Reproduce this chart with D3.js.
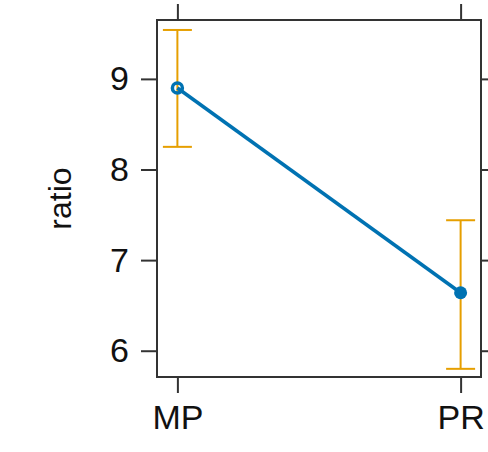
<!DOCTYPE html>
<html>
<head>
<meta charset="utf-8">
<script src="https://cdn.jsdelivr.net/npm/d3@7"></script>
<style>
  html, body { margin: 0; padding: 0; background: #fff; }
  svg { display: block; font-family: "Liberation Sans", Arial, sans-serif; }
</style>
</head>
<body>
<div id="chart"></div>
<script>
const categories = ["MP", "PR"];
const ratio = [8.90, 6.64];
const lower = [8.25, 5.80];
const upper = [9.54, 7.44];
const yTicks = [6, 7, 8, 9];

const width = 488, height = 452;
const margin = { top: 20, right: 7, bottom: 75, left: 157 };
const innerW = width - margin.left - margin.right;
const innerH = height - margin.top - margin.bottom;

const svg = d3.select("#chart").append("svg")
  .attr("width", width)
  .attr("height", height);

const g = svg.append("g").attr("transform", `translate(${margin.left},${margin.top})`);

const x = d3.scalePoint().domain(categories).range([0, innerW]).padding(0.072);
const y = d3.scaleLinear().domain([5.71, 9.65]).range([innerH, 0]);

const axisColor = "#333";

// axes (ticks outward on all four sides)
const axes = [
  { axis: d3.axisLeft(y).tickValues(yTicks).tickFormat(d3.format("d")), tr: "translate(0,0)" },
  { axis: d3.axisRight(y).tickValues(yTicks).tickFormat(""), tr: `translate(${innerW},0)` },
  { axis: d3.axisBottom(x), tr: `translate(0,${innerH})` },
  { axis: d3.axisTop(x).tickFormat(""), tr: "translate(0,0)" }
];
axes.forEach(a => {
  const ag = g.append("g").attr("transform", a.tr)
    .call(a.axis.tickSize(16).tickSizeOuter(0).tickPadding(12));
  ag.select(".domain").remove();
  ag.selectAll(".tick line").attr("stroke", axisColor).attr("stroke-width", 2);
  ag.selectAll(".tick text")
    .attr("fill", "#111")
    .style("font-size", "34px")
    .style("font-family", "'Liberation Sans', Arial, sans-serif");
});

// frame
g.append("rect")
  .attr("x", 0).attr("y", 0)
  .attr("width", innerW).attr("height", innerH)
  .attr("fill", "none")
  .attr("stroke", axisColor)
  .attr("stroke-width", 2);

// y label
svg.append("text")
  .attr("transform", `translate(71,${margin.top + innerH / 2}) rotate(-90)`)
  .attr("text-anchor", "middle")
  .attr("fill", "#111")
  .style("font-size", "32px")
  .text("ratio");

const data = categories.map((c, i) => ({ c, v: ratio[i], lo: lower[i], hi: upper[i] }));

// error bars
const orange = "#E69F00";
const cap = 14.5;
const eb = g.append("g").attr("stroke", orange).attr("stroke-width", 2);
data.forEach(d => {
  eb.append("line").attr("x1", x(d.c)).attr("x2", x(d.c)).attr("y1", y(d.lo)).attr("y2", y(d.hi));
  eb.append("line").attr("x1", x(d.c) - cap).attr("x2", x(d.c) + cap).attr("y1", y(d.lo)).attr("y2", y(d.lo));
  eb.append("line").attr("x1", x(d.c) - cap).attr("x2", x(d.c) + cap).attr("y1", y(d.hi)).attr("y2", y(d.hi));
});

// line
const blue = "#0072B2";
g.append("path")
  .datum(data)
  .attr("fill", "none")
  .attr("stroke", blue)
  .attr("stroke-width", 3.5)
  .attr("d", d3.line().x(d => x(d.c)).y(d => y(d.v)));

// points: first open, second filled
g.selectAll("circle.pt")
  .data(data)
  .join("circle")
  .attr("class", "pt")
  .attr("cx", d => x(d.c))
  .attr("cy", d => y(d.v))
  .attr("r", (d, i) => i === 0 ? 5 : 6.5)
  .attr("fill", (d, i) => i === 0 ? "none" : blue)
  .attr("stroke", blue)
  .attr("stroke-width", (d, i) => i === 0 ? 3.5 : 0);
</script>
</body>
</html>
